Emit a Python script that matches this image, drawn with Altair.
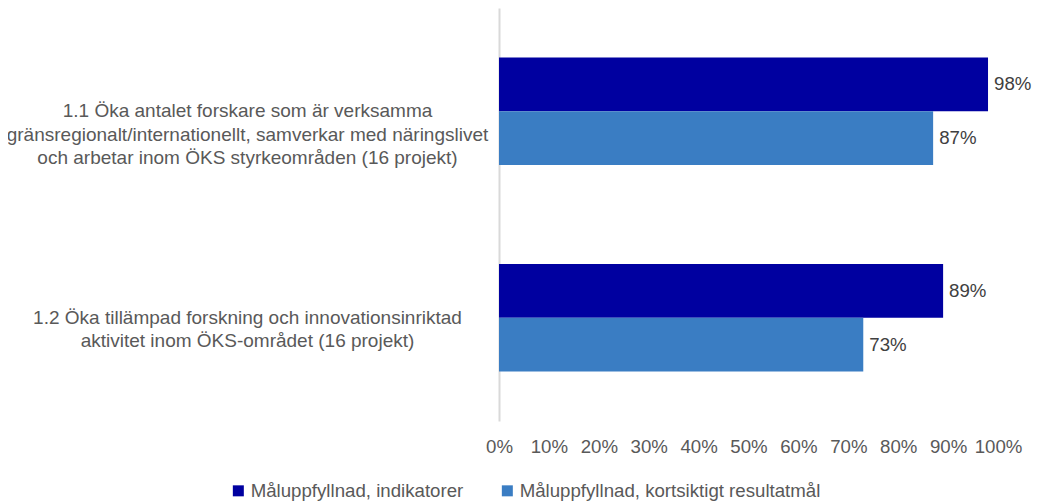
import altair as alt
import pandas as pd

categories = [
    "1.1 Öka antalet forskare som är verksamma|gränsregionalt/internationellt, samverkar med näringslivet|och arbetar inom ÖKS styrkeområden (16 projekt)",
    "1.2 Öka tillämpad forskning och innovationsinriktad|aktivitet inom ÖKS-området (16 projekt)",
]
series = ["Måluppfyllnad, indikatorer", "Måluppfyllnad, kortsiktigt resultatmål"]
values_indikatorer = [0.98, 0.89]
values_resultatmal = [0.87, 0.73]
colors = ["#0000A0", "#3A7DC3"]
x_ticks = [0, 0.1, 0.2, 0.3, 0.4, 0.5, 0.6, 0.7, 0.8, 0.9, 1.0]

rows = []
for i, c in enumerate(categories):
    rows.append({"cat": c, "series": series[0], "value": values_indikatorer[i]})
    rows.append({"cat": c, "series": series[1], "value": values_resultatmal[i]})
df = pd.DataFrame(rows)

FONT = "Liberation Sans"
FS = 18.67
CAT_FS = 19

base = alt.Chart(df).encode(
    y=alt.Y(
        "cat:N",
        sort=categories,
        scale=alt.Scale(paddingInner=0.479, paddingOuter=0.2395),
        axis=alt.Axis(
            title=None,
            labelExpr="split(datum.label, '|')",
            labelAlign="center",
            labelBaseline="middle",
            labelPadding=252,
            labelLimit=0,
            labelFontSize=CAT_FS,
            labelLineHeight=23.5,
            labelColor="#595959",
            labelFont=FONT,
            ticks=False,
            tickSize=0,
            domainColor="#d9d9d9",
            domainWidth=2,
        ),
    ),
    yOffset=alt.YOffset("series:N", sort=series, scale=alt.Scale(paddingInner=0, paddingOuter=0)),
)

bars = base.mark_bar().encode(
    x=alt.X(
        "value:Q",
        scale=alt.Scale(domain=[0, 1], nice=False),
        axis=alt.Axis(
            title=None,
            values=x_ticks,
            format=".0%",
            grid=False,
            domain=False,
            ticks=False,
            labelPadding=16,
            labelFontSize=FS,
            labelColor="#595959",
            labelFont=FONT,
            labelFlush=False,
        ),
    ),
    color=alt.Color(
        "series:N",
        sort=series,
        scale=alt.Scale(domain=series, range=colors),
        legend=alt.Legend(
            title=None,
            orient="none",
            direction="horizontal",
            legendX=-270,
            legendY=473,
            symbolType="square",
            symbolSize=121,
            symbolStrokeWidth=0,
            labelFontSize=FS,
            labelColor="#595959",
            labelFont=FONT,
            labelOffset=3,
            columnPadding=34,
            padding=0,
            labelLimit=0,
        ),
    ),
)

labels = base.mark_text(
    align="left", baseline="middle", dx=6, fontSize=FS, font=FONT, color="#404040"
).encode(
    x=alt.X("value:Q"),
    text=alt.Text("value:Q", format=".0%"),
)

chart = (
    alt.layer(bars, labels)
    .properties(
        width=499,
        height=413,
        autosize=alt.AutoSizeParams(type="none"),
        padding={"left": 491, "top": 0, "right": 35, "bottom": 80},
    )
    .configure(font=FONT)
    .configure_view(strokeWidth=0, stroke=None)
)

chart.save("out.html", embed_options={"renderer": "svg", "actions": False})
